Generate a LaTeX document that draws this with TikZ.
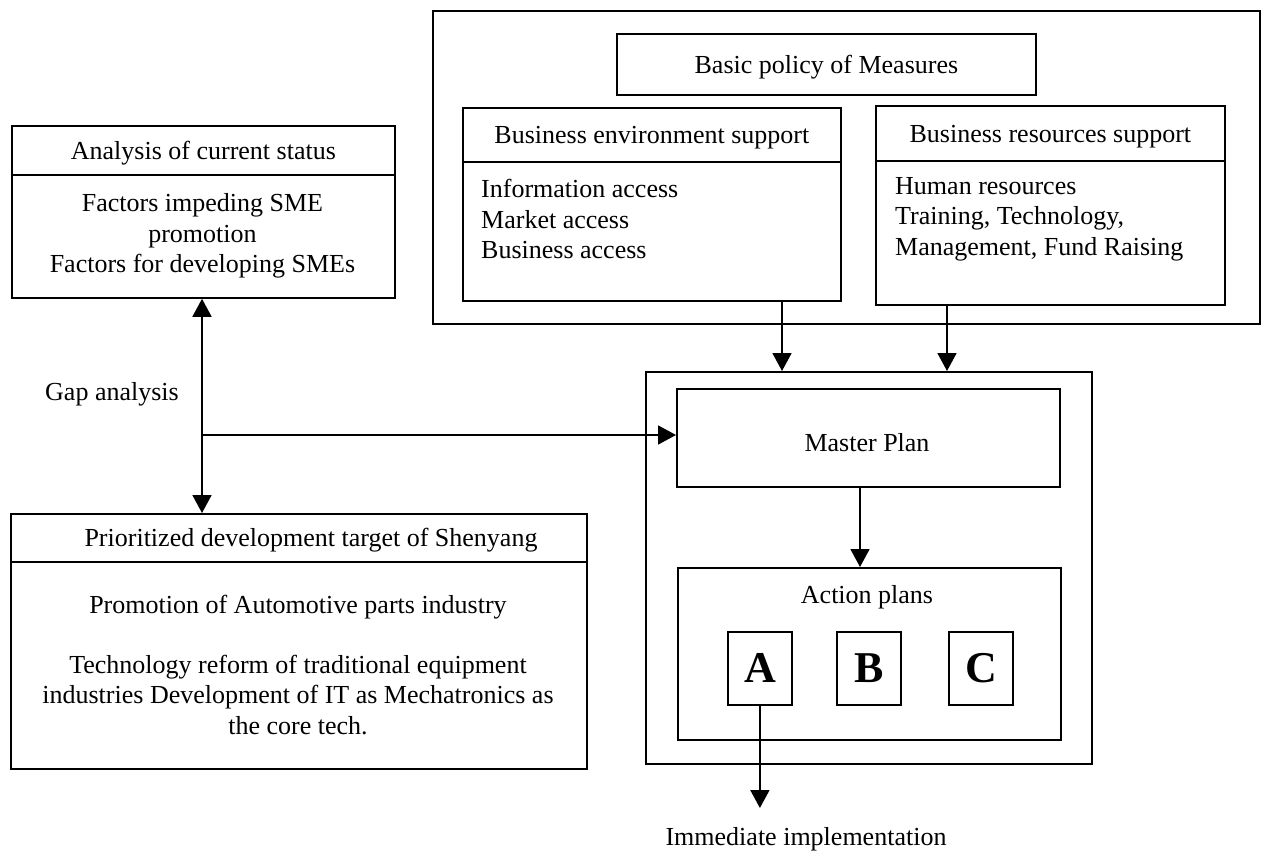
\documentclass[tikz,border=0pt]{standalone}
\usepackage{fontspec}
\setmainfont{Liberation Serif}
\usetikzlibrary{arrows.meta}

\begin{document}
\begin{tikzpicture}[x=1pt,y=-1pt,
  every node/.style={font=\fontsize{26}{30.5}\selectfont, inner sep=0pt},
  box/.style={draw, line width=1.8pt, anchor=north west},
  txt/.style={align=center},
  hdr/.style={align=center, yshift=-3pt},
  ltxt/.style={align=left, anchor=west},
  letter/.style={font=\fontsize{44}{48}\selectfont\bfseries},
  arr/.style={line width=1.8pt, -{Triangle[length=18pt,width=19pt]}},
  darr/.style={line width=1.8pt, {Triangle[length=18pt,width=19pt]}-{Triangle[length=18pt,width=19pt]}}]

\useasboundingbox (0,0) rectangle (1261,851);

% ---- measures block (top right) ----
\node[box, minimum width=827pt, minimum height=313pt] (measures) at (432,10) {};
\node[box, minimum width=419pt, minimum height=61pt] (basic) at (616,33) {};
\node[hdr] at (basic.center) {Basic policy of Measures};

\node[box, minimum width=378pt, minimum height=54pt] (envH) at (462,107) {};
\node[hdr] at (envH.center) {Business environment support};
\node[box, minimum width=378pt, minimum height=139pt] (envB) at (462,161) {};
\node[ltxt] (envT) at (481,219) {Information access\\Market access\\Business access};

\node[box, minimum width=349pt, minimum height=55pt] (resH) at (875,105) {};
\node[hdr] at (resH.center) {Business resources support};
\node[box, minimum width=349pt, minimum height=144pt] (resB) at (875,160) {};
\node[ltxt] (resT) at (895,219) {Human resources\\Training, Technology,\\Management, Fund Raising};

% ---- current status (left) ----
\node[box, minimum width=383pt, minimum height=49pt] (anaH) at (11,125) {};
\node[hdr] at (anaH.center) {Analysis of current status};
\node[box, minimum width=383pt, minimum height=123pt] (anaB) at (11,174) {};
\node[txt] (anaT) at (202.5,236) {Factors impeding SME\\promotion\\Factors for developing SMEs};

\node (gapL) at (112,394) {Gap analysis};

% ---- development target (bottom left) ----
\node[box, minimum width=576pt, minimum height=48pt] (priH) at (10,513) {};
\node[hdr] at (311,537) {Prioritized development target of Shenyang};
\node[box, minimum width=576pt, minimum height=207pt] (priB) at (10,561) {};
\node[txt] (priT1) at (298,607) {Promotion of Automotive parts industry};
\node[txt] (priT2) at (298,695) {Technology reform of traditional equipment\\industries Development of IT as Mechatronics as\\the core tech.};

% ---- master plan block ----
\node[box, minimum width=446pt, minimum height=392pt] (mpO) at (645,371) {};
\node[box, minimum width=383pt, minimum height=98pt] (master) at (676,388) {};
\node[txt] at (867,443) {Master Plan};
\node[box, minimum width=383pt, minimum height=172pt] (action) at (677,567) {};
\node[txt] at (867,597) {Action plans};
\node[box, minimum width=64pt, minimum height=73pt] (pA) at (727,631) {};
\node[letter] at (pA.center) {A};
\node[box, minimum width=64pt, minimum height=73pt] (pB) at (836,631) {};
\node[letter] at (pB.center) {B};
\node[box, minimum width=64pt, minimum height=73pt] (pC) at (948,631) {};
\node[letter] at (pC.center) {C};

\node (impl) at (806,839) {Immediate implementation};

% ---- connectors ----
\coordinate (ex) at (782,0);
\coordinate (rx) at (947,0);
\coordinate (gx) at (202,0);
\coordinate (gapJ) at (202,435);
\coordinate (mx) at (860,0);
\coordinate (implTip) at (0,808);

\draw[arr] (envB.south -| ex) -- (mpO.north -| ex);
\draw[arr] (resB.south -| rx) -- (mpO.north -| rx);
\draw[darr] (anaB.south -| gx) -- (priH.north -| gx);
\draw[arr] (gapJ) -- (gapJ -| master.west);
\draw[arr] (master.south -| mx) -- (action.north -| mx);
\draw[arr] (pA.south) -- (pA.south |- implTip);

\end{tikzpicture}
\end{document}
